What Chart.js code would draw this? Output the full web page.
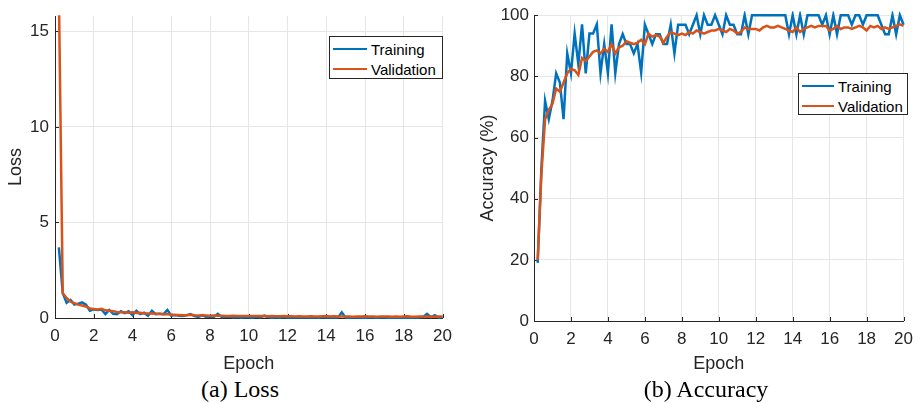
<!DOCTYPE html>
<html>
<head>
<meta charset="utf-8">
<script src="https://cdn.jsdelivr.net/npm/chart.js"></script>
<style>
body { margin: 0; background: #fff; }
#wrap { position: relative; width: 921px; height: 403px; overflow: hidden; }
canvas { position: absolute; top: 0; }
.legend { position: absolute; border: 1px solid #262626; background: #fff; box-sizing: border-box;
  font: 15px 'Liberation Sans', Arial, sans-serif; color: #000; padding: 2px 0 0 3px; }
.row { height: 20px; display: flex; align-items: center; }
.sw { height: 2.5px; margin-right: 4px; }
.cap { position: absolute; top: 376px; font: 24px 'Liberation Serif', 'Times New Roman', serif; color: #000;
  transform: translateX(-50%); white-space: nowrap; }
</style>
</head>
<body>
<div id="wrap">
  <canvas id="lossChart" width="460" height="375" style="left:0"></canvas>
  <canvas id="accChart" width="460" height="378" style="left:461px"></canvas>
  <div id="lossLegend" class="legend" style="left:329px;top:36px;width:114px;height:43px"></div>
  <div id="accLegend" class="legend" style="left:798px;top:73px;width:110px;height:42px"></div>
  <div class="cap" style="left:240px">(a) Loss</div>
  <div class="cap" style="left:706px">(b) Accuracy</div>
</div>
<script>
var epochs = [0.2,0.4,0.6,0.8,1.0,1.2,1.4,1.6,1.8,2.0,
  2.2,2.4,2.6,2.8,3.0,3.2,3.4,3.6,3.8,4.0,
  4.2,4.4,4.6,4.8,5.0,5.2,5.4,5.6,5.8,6.0,
  6.2,6.4,6.6,6.8,7.0,7.2,7.4,7.6,7.8,8.0,
  8.2,8.4,8.6,8.8,9.0,9.2,9.4,9.6,9.8,10.0,
  10.2,10.4,10.6,10.8,11.0,11.2,11.4,11.6,11.8,12.0,
  12.2,12.4,12.6,12.8,13.0,13.2,13.4,13.6,13.8,14.0,
  14.2,14.4,14.6,14.8,15.0,15.2,15.4,15.6,15.8,16.0,
  16.2,16.4,16.6,16.8,17.0,17.2,17.4,17.6,17.8,18.0,
  18.2,18.4,18.6,18.8,19.0,19.2,19.4,19.6,19.8,20.0]

var trainLoss = [3.7,1.3,0.8,0.95,0.7,0.75,0.82,0.7,0.38,0.45,
  0.42,0.45,0.2,0.42,0.22,0.2,0.35,0.25,0.35,0.15,
  0.38,0.2,0.28,0.12,0.38,0.2,0.22,0.2,0.42,0.12,
  0.15,0.12,0.1,0.15,0.2,0.1,0.05,0.15,0.05,0.08,
  0.05,0.22,0.05,0.06,0.08,0.03,0.05,0.02,0.05,0.04,
  0.02,0.06,0.03,0.12,0.05,0.02,0.04,0.02,0.05,0.03,
  0.02,0.04,0.02,0.02,0.03,0.02,0.04,0.02,0.05,0.02,
  0.03,0.02,0.02,0.3,0.02,0.01,0.02,0.03,0.01,0.01,
  0.03,0.02,0.01,0.02,0.03,0.01,0.02,0.01,0.02,0.01,
  0.03,0.01,0.02,0.02,0.05,0.22,0.04,0.15,0.02,0.05]

var valLoss = [17,1.3,1.05,0.85,0.78,0.7,0.65,0.6,0.5,0.47,
  0.45,0.48,0.4,0.38,0.36,0.32,0.3,0.3,0.28,0.3,
  0.26,0.27,0.24,0.24,0.23,0.22,0.22,0.2,0.2,0.18,
  0.16,0.16,0.15,0.15,0.17,0.14,0.13,0.14,0.13,0.12,
  0.13,0.12,0.12,0.11,0.11,0.12,0.11,0.1,0.1,0.1,
  0.11,0.1,0.1,0.1,0.09,0.1,0.09,0.09,0.1,0.09,
  0.09,0.08,0.09,0.08,0.08,0.09,0.08,0.08,0.09,0.1,
  0.08,0.09,0.08,0.08,0.08,0.08,0.07,0.08,0.08,0.09,
  0.08,0.08,0.07,0.08,0.08,0.08,0.07,0.08,0.07,0.08,
  0.09,0.07,0.07,0.08,0.08,0.07,0.08,0.07,0.08,0.08]

var trainAcc = [19,50,72,66,72,81,78,66,87.5,81,
  94,84,97,81,94,94,97,81,90.6,81,
  97,81,90.6,93.8,90.6,90.6,87.5,90.6,81.25,96.9,
  93.75,90.6,93.75,93.75,90.6,90.6,96.9,87.5,96.9,96.9,
  96.9,93.75,96.9,100,93.75,100,96.9,96.9,100,96.9,
  93.75,100,96.9,96.9,93.75,93.75,100,93.75,100,100,
  100,100,100,100,100,100,100,100,93.75,100,
  93.75,100,93.75,100,100,100,100,96.9,100,93.75,
  100,93.75,100,100,100,96.9,100,100,96.9,100,
  100,100,100,96.9,93.75,93.75,100,93.75,100,96.9]

var valAcc = [20,48,66,69,71,76,75,78,81,82.5,
  82,80.5,86,85,86.5,88,88.5,87.5,89,88,
  90.5,87.5,89.5,90,91.5,91,90.5,91,92,90.5,
  94,93,93.5,93,91,93,94.5,94,93.5,94,
  93.5,94.5,94,95,94.5,94,94.5,95,95,95.5,
  95,94.5,95.5,95,94,94.5,96,95.5,95.5,95.5,
  95,96,96.5,96,96,96.5,96,95.5,95,94.5,
  96,94.5,95.5,96,96.5,96,96.5,96.5,96.5,95,
  95.5,96.5,95.5,96,96,95.5,96,96.5,96,95,
  96.5,96,96.5,95.5,96,95.5,96,96.5,97,96.5]

var seriesNames = ['Training', 'Validation']
var xTicks = [0,2,4,6,8,10,12,14,16,18,20]

var blue = '#0072BD'
var orange = '#D95319'
var axisColor = '#262626'
var sans = "'Liberation Sans', Arial, sans-serif"

function pts(ys) {
  return epochs.map(function (x, i) { return {x: x, y: ys[i]}; });
}

// small inward tick marks like MATLAB
var inTicks = {
  id: 'inTicks',
  beforeDatasetsDraw: function (chart) {
    var ctx = chart.ctx, a = chart.chartArea;
    var xs = chart.scales.x, ys = chart.scales.y;
    ctx.save();
    ctx.strokeStyle = axisColor;
    ctx.lineWidth = 1;
    ctx.beginPath();
    xs.ticks.forEach(function (t) {
      var px = Math.round(xs.getPixelForValue(t.value)) + 0.5;
      ctx.moveTo(px, a.bottom); ctx.lineTo(px, a.bottom - 4);
    });
    ys.ticks.forEach(function (t) {
      var py = Math.round(ys.getPixelForValue(t.value)) + 0.5;
      ctx.moveTo(a.left, py); ctx.lineTo(a.left + 4, py);
    });
    ctx.stroke();
    ctx.restore();
  }
};

function makeChart(id, train, val, yOpt) {
  return new Chart(document.getElementById(id), {
    type: 'line',
    data: {
      datasets: [
        // validation drawn on top, as in the original figure
        {label: seriesNames[0], data: pts(train), borderColor: blue, backgroundColor: blue,
          borderWidth: 2.5, pointRadius: 0, tension: 0, clip: yOpt.clip, order: 1},
        {label: seriesNames[1], data: pts(val), borderColor: orange, backgroundColor: orange,
          borderWidth: 2.5, pointRadius: 0, tension: 0, clip: yOpt.clip, order: 0}
      ]
    },
    options: {
      responsive: false,
      animation: false,
      devicePixelRatio: 1,
      layout: {padding: {top: yOpt.top, right: yOpt.right, left: 0, bottom: 0}},
      plugins: {legend: {display: false}, tooltip: {enabled: false}},
      scales: {
        x: {
          type: 'linear', min: 0, max: 20,
          afterBuildTicks: function (s) { s.ticks = xTicks.map(function (v) { return {value: v}; }); },
          afterFit: function (s) { s.height = 57; },
          grid: {color: '#e6e6e6', drawTicks: false},
          border: {color: axisColor, width: 1},
          ticks: {color: axisColor, font: {family: sans, size: 17}, padding: 8, maxRotation: 0},
          title: {display: true, text: 'Epoch', color: axisColor, font: {family: sans, size: 18},
            padding: {top: 0, bottom: yOpt.xTitlePad}}
        },
        y: {
          min: yOpt.min, max: yOpt.max,
          afterFit: function (s) { s.width = yOpt.width; },
          grid: {color: '#e6e6e6', drawTicks: false},
          border: {color: axisColor, width: 1},
          ticks: {color: axisColor, font: {family: sans, size: 17}, padding: yOpt.tickPad,
            stepSize: yOpt.step, includeBounds: false},
          title: {display: true, text: yOpt.title, color: axisColor, font: {family: sans, size: 18},
            padding: {top: yOpt.yTitlePad, bottom: 0}}
        }
      }
    },
    plugins: [inTicks]
  });
}

function makeLegend(chart, el, swWidth) {
  chart.data.datasets.forEach(function (ds) {
    var row = document.createElement('div');
    row.className = 'row';
    var sw = document.createElement('span');
    sw.className = 'sw';
    sw.style.width = swWidth + 'px';
    sw.style.background = ds.borderColor;
    var txt = document.createElement('span');
    txt.textContent = ds.label;
    row.appendChild(sw);
    row.appendChild(txt);
    el.appendChild(row);
  });
}

var lossChart = makeChart('lossChart', trainLoss, valLoss,
  {min: 0, max: 15.8, step: 5, title: 'Loss', width: 55, top: 10, right: 17,
   tickPad: 6, yTitlePad: 5, xTitlePad: 0, clip: 1});
var accChart = makeChart('accChart', trainAcc, valAcc,
  {min: 0, max: 100, step: 20, title: 'Accuracy (%)', width: 73, top: 13, right: 13,
   tickPad: 5, yTitlePad: 16, xTitlePad: 3, clip: 4});

makeLegend(lossChart, document.getElementById('lossLegend'), 34);
makeLegend(accChart, document.getElementById('accLegend'), 32);
</script>
</body>
</html>
